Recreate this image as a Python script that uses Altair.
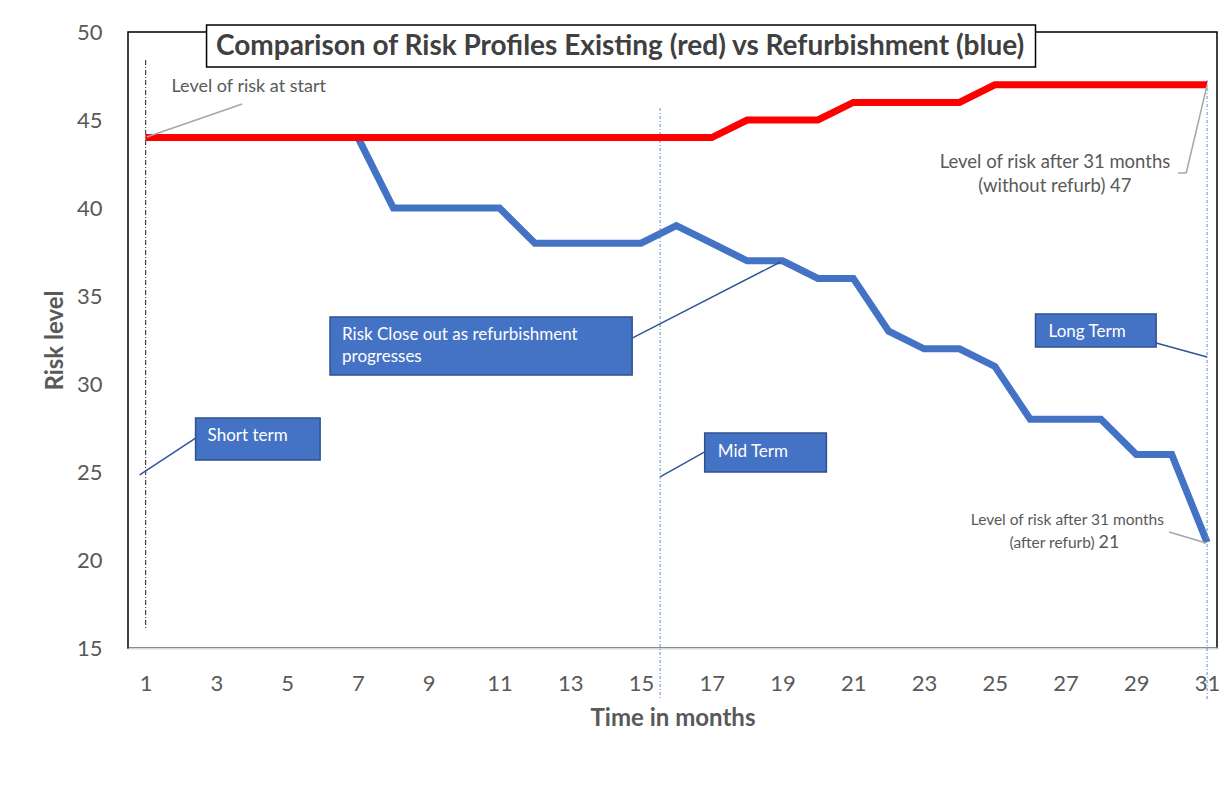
import altair as alt
import pandas as pd

# ---------------- data ----------------
months = list(range(1, 32))
existing = [44, 44, 44, 44, 44, 44, 44, 44, 44, 44, 44, 44, 44, 44, 44, 44, 44,
            45, 45, 45, 46, 46, 46, 46, 47, 47, 47, 47, 47, 47, 47]
refurbishment = [44, 44, 44, 44, 44, 44, 44, 40, 40, 40, 40, 38, 38, 38, 38, 39,
                 38, 37, 37, 36, 36, 33, 32, 32, 31, 28, 28, 28, 26, 26, 21]
x_ticks = list(range(1, 32, 2))
y_ticks = [15, 20, 25, 30, 35, 40, 45, 50]

title_text = "Comparison of Risk Profiles Existing (red) vs Refurbishment (blue)"

# annotation tables (data coordinates)
box_x = [2.41, 6.21, 16.80, 26.15]
box_x2 = [5.93, 14.75, 20.24, 29.56]
box_y = [28.07, 33.81, 27.22, 33.98]
box_y2 = [25.68, 30.51, 25.00, 32.10]

box_text = ["Short term", "Risk Close out as refurbishment", "progresses", "Mid Term", "Long Term"]
box_text_x = [2.75, 6.55, 6.55, 17.17, 26.52]
box_text_y = [27.05, 32.78, 31.53, 26.14, 32.95]

blue_lead_x = [2.41, 14.75, 16.80, 29.56]
blue_lead_y = [26.93, 32.61, 26.14, 32.33]
blue_lead_x2 = [0.83, 18.94, 15.54, 31.0]
blue_lead_y2 = [24.83, 36.93, 24.72, 31.53]

gray_lead_x = [1.03, 30.18, 30.41, 29.93]
gray_lead_y = [44.03, 41.99, 41.99, 21.59]
gray_lead_x2 = [3.73, 30.41, 31.0, 30.97]
gray_lead_y2 = [45.91, 41.99, 46.99, 20.97]

note_text = ["Level of risk at start", "Level of  risk after 31 months", "(without refurb) 47",
             "Level of risk after 31 months", "(after refurb)", "21"]
note_x = [1.73, 26.70, 26.70, 27.05, 27.82, 27.93]
note_y = [46.88, 42.61, 41.25, 22.27, 20.97, 20.97]
note_size = [18, 18.5, 18.5, 15.5, 15.5, 18]
note_align = ["left", "center", "center", "center", "right", "left"]

vline_x = [1.0, 15.54, 31.0]
vline_y = [48.41, 45.68, 47.27]
vline_y2 = [16.02, 12.05, 12.05]
vline_kind = ["black", "blue", "blue"]

title_box = {"x": [2.72], "x2": [26.15], "y": [50.40], "y2": [48.01]}
title_pos = {"x": [14.41], "y": [49.15]}

# ---------------- chart ----------------
FONT = "Lato"
GRAY = "#595959"
xs = alt.Scale(domain=[0.5, 31.28], nice=False, zero=False)
ys = alt.Scale(domain=[15, 50], nice=False, zero=False)

lines_df = pd.DataFrame({"month": months, "existing": existing, "refurbishment": refurbishment})

x_axis = alt.Axis(values=x_ticks, title="Time in months", ticks=False, grid=False,
                  domainColor="#D9D9D9", domainWidth=2, labelFontSize=22, labelColor=GRAY,
                  labelFont=FONT, labelPadding=25, titleFont=FONT, titleFontSize=24,
                  titleColor=GRAY, titleFontWeight="bold", titlePadding=12, labelFlush=False)
y_axis = alt.Axis(values=y_ticks, title="Risk level", ticks=False, grid=False, domain=False,
                  labelFontSize=22, labelColor=GRAY, labelFont=FONT, labelPadding=26,
                  titleFont=FONT, titleFontSize=24, titleColor=GRAY, titleFontWeight="bold",
                  titlePadding=9, labelFlush=False)


def X(field):
    return alt.X(field, scale=xs, axis=x_axis)


def Y(field):
    return alt.Y(field, scale=ys, axis=y_axis)


blue_line = alt.Chart(lines_df).mark_line(color="#4472C4", strokeWidth=7, strokeJoin="miter").encode(
    x=X("month:Q"), y=Y("refurbishment:Q"))
red_line = alt.Chart(lines_df).mark_line(color="#FF0000", strokeWidth=7, strokeJoin="miter").encode(
    x=X("month:Q"), y=Y("existing:Q"))

vl_df = pd.DataFrame({"x": vline_x, "y": vline_y, "y2": vline_y2, "kind": vline_kind})
vline_black = alt.Chart(vl_df[vl_df.kind == "black"]).mark_rule(
    color="#202020", strokeWidth=1, strokeDash=[5, 2, 1, 2]).encode(
    x=X("x:Q"), y=Y("y:Q"), y2="y2:Q")
vline_blue = alt.Chart(vl_df[vl_df.kind == "blue"]).mark_rule(
    color="#5B8BD6", strokeWidth=1, strokeDash=[3, 2, 1, 2]).encode(
    x=X("x:Q"), y=Y("y:Q"), y2="y2:Q")

box_df = pd.DataFrame({"x": box_x, "x2": box_x2, "y": box_y, "y2": box_y2})
boxes = alt.Chart(box_df).mark_rect(fill="#4472C4", stroke="#2F528F", strokeWidth=1.5).encode(
    x=X("x:Q"), x2="x2:Q", y=Y("y:Q"), y2="y2:Q")

bt_df = pd.DataFrame({"x": box_text_x, "y": box_text_y, "t": box_text})
box_texts = alt.Chart(bt_df).mark_text(align="left", baseline="middle", color="white",
                                       fontSize=17, font=FONT).encode(
    x=X("x:Q"), y=Y("y:Q"), text="t:N")

bl_df = pd.DataFrame({"x": blue_lead_x, "y": blue_lead_y, "x2": blue_lead_x2, "y2": blue_lead_y2})
blue_leads = alt.Chart(bl_df).mark_rule(color="#2F5597", strokeWidth=1.5).encode(
    x=X("x:Q"), x2="x2:Q", y=Y("y:Q"), y2="y2:Q")

gl_df = pd.DataFrame({"x": gray_lead_x, "y": gray_lead_y, "x2": gray_lead_x2, "y2": gray_lead_y2})
gray_leads = alt.Chart(gl_df).mark_rule(color="#A6A6A6", strokeWidth=1.5).encode(
    x=X("x:Q"), x2="x2:Q", y=Y("y:Q"), y2="y2:Q")

note_layers = []
for t, nx, ny, sz, al in zip(note_text, note_x, note_y, note_size, note_align):
    d = pd.DataFrame({"x": [nx], "y": [ny], "t": [t]})
    note_layers.append(
        alt.Chart(d).mark_text(align=al, baseline="middle", color=GRAY, fontSize=sz, font=FONT).encode(
            x=X("x:Q"), y=Y("y:Q"), text="t:N"))

tb = alt.Chart(pd.DataFrame(title_box)).mark_rect(fill="white", stroke="#000000", strokeWidth=1.5).encode(
    x=X("x:Q"), x2="x2:Q", y=Y("y:Q"), y2="y2:Q")
tt = alt.Chart(pd.DataFrame({"x": title_pos["x"], "y": title_pos["y"], "t": [title_text]})).mark_text(
    align="center", baseline="middle", color="#404040", fontSize=28, fontWeight="bold", font=FONT).encode(
    x=X("x:Q"), y=Y("y:Q"), text="t:N")

chart = alt.layer(
    blue_line, vline_black, vline_blue, red_line, blue_leads, gray_leads, boxes, box_texts,
    *note_layers, tb, tt
).properties(
    width=1089, height=616,
    background="white",
    autosize=alt.AutoSizeParams(type="none"),
    padding={"left": 120, "top": 24, "right": 2, "bottom": 100},
).configure_view(
    stroke="#000000", strokeWidth=1.5
)

chart.save("out.html", embed_options={"renderer": "svg", "actions": False})
